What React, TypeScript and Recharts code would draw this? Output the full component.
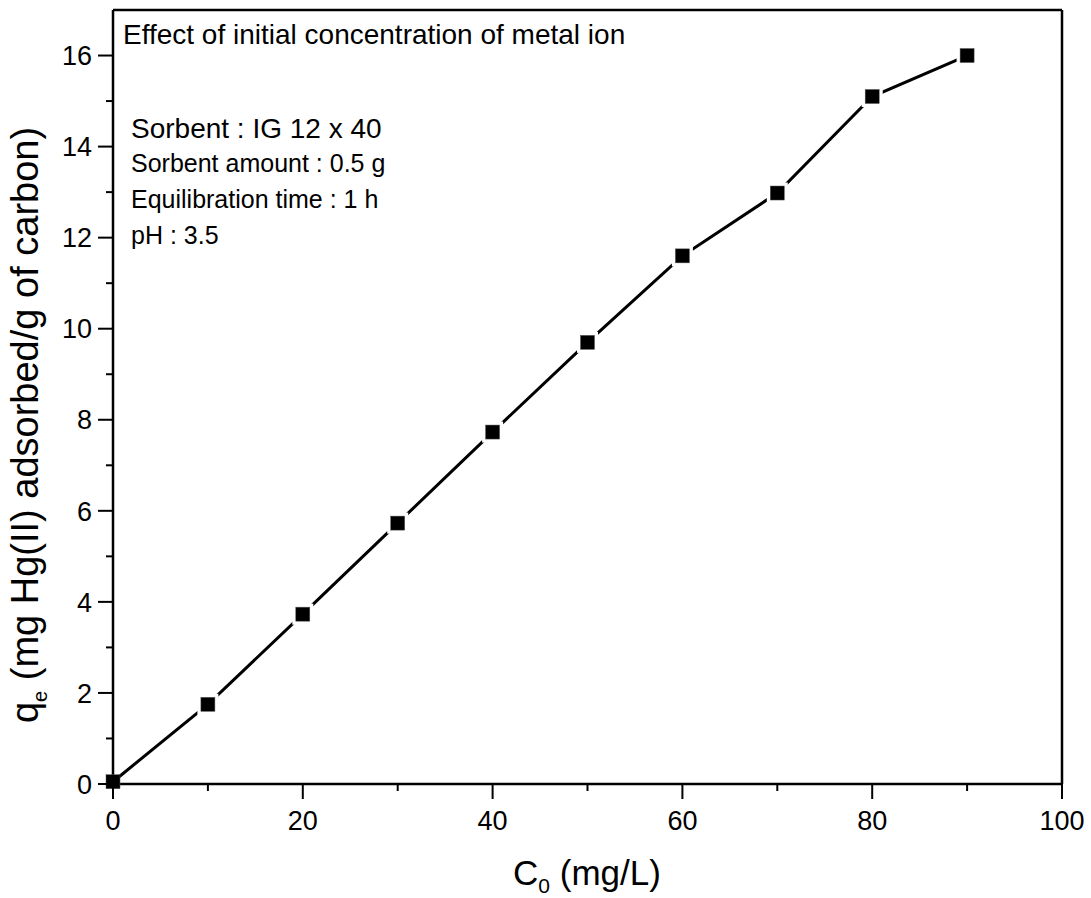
import React from "react";
import { LineChart, Line, XAxis, YAxis, ReferenceLine } from "recharts";

const concentrations = [0, 10, 20, 30, 40, 50, 60, 70, 80, 90];
const uptake = [0.05, 1.75, 3.73, 5.73, 7.73, 9.7, 11.6, 12.98, 15.1, 16.0];
const xTicks = [0, 10, 20, 30, 40, 50, 60, 70, 80, 90, 100];
const yTicks = [0, 1, 2, 3, 4, 5, 6, 7, 8, 9, 10, 11, 12, 13, 14, 15, 16];
const notes = [
  "Sorbent : IG 12 x 40",
  "Sorbent amount : 0.5 g",
  "Equilibration time : 1 h",
  "pH : 3.5",
];
const title = "Effect of initial concentration of metal ion";

const data = concentrations.map((c, i) => ({ c, q: uptake[i] }));

const FONT = "'Liberation Sans', Arial, Helvetica, sans-serif";

const XTick = (props: any) => {
  const { x, y, payload } = props;
  const major = payload.value % 20 === 0;
  return (
    <g>
      <line x1={x} x2={x} y1={y} y2={y + (major ? 15 : 7)} stroke="#000" strokeWidth={2} />
      {major && (
        <text x={x} y={y + 46} textAnchor="middle" fontSize={27} fontFamily={FONT} fill="#000">
          {payload.value}
        </text>
      )}
    </g>
  );
};

const YTick = (props: any) => {
  const { x, y, payload } = props;
  const major = payload.value % 2 === 0;
  return (
    <g>
      <line x1={x - (major ? 15 : 7)} x2={x} y1={y} y2={y} stroke="#000" strokeWidth={2} />
      {major && (
        <text x={x - 21} y={y} dy="0.36em" textAnchor="end" fontSize={27} fontFamily={FONT} fill="#000">
          {payload.value}
        </text>
      )}
    </g>
  );
};

const SquareDot = (props: any) => {
  const { cx, cy, index } = props;
  if (cx == null || cy == null) return <g key={`d${index}`} />;
  return (
    <g key={`d${index}`}>
      {index > 0 && <rect x={cx - 10.5} y={cy - 10.5} width={21} height={21} fill="#fff" />}
      <rect x={cx - 7} y={cy - 7} width={14} height={14} fill="#000" stroke="#555" strokeWidth={0.5} />
    </g>
  );
};

export default function App() {
  return (
    <div style={{ position: "absolute", left: 0, top: 0, width: 1091, height: 898, background: "#fff" }}>
      <LineChart
        width={1091}
        height={898}
        data={data}
        margin={{ top: 10, right: 29, left: 0, bottom: 0 }}
      >
        <XAxis
          dataKey="c"
          type="number"
          domain={[0, 100]}
          ticks={xTicks}
          interval={0}
          tickSize={0}
          tickMargin={0}
          tickLine={false}
          tick={<XTick />}
          height={114}
          axisLine={{ stroke: "#000", strokeWidth: 2.5 }}
        />
        <YAxis
          type="number"
          domain={[0, 17]}
          ticks={yTicks}
          interval={0}
          tickSize={0}
          tickMargin={0}
          tickLine={false}
          tick={<YTick />}
          width={113}
          axisLine={{ stroke: "#000", strokeWidth: 2.5 }}
        />
        <ReferenceLine y={17} stroke="#000" strokeWidth={2.5} />
        <ReferenceLine x={100} stroke="#000" strokeWidth={2.5} />
        <Line
          dataKey="q"
          stroke="#000"
          strokeWidth={3}
          dot={<SquareDot />}
          activeDot={false}
          isAnimationActive={false}
        />
      </LineChart>
      <svg
        width={1091}
        height={898}
        style={{ position: "absolute", left: 0, top: 0, pointerEvents: "none" }}
        fontFamily={FONT}
      >
        <text x={123} y={44} fontSize={28} fill="#000">{title}</text>
        <text x={131} y={138} fontSize={28} fill="#000">{notes[0]}</text>
        <text x={131} y={172} fontSize={25} fill="#000">{notes[1]}</text>
        <text x={131} y={208} fontSize={25} fill="#000">{notes[2]}</text>
        <text x={131} y={244} fontSize={25} fill="#000">{notes[3]}</text>
        <text x={587} y={885} textAnchor="middle" fontSize={35} fill="#000">
          C<tspan fontSize={21} dy={8}>0</tspan>
          <tspan dy={-8}> (mg/L)</tspan>
        </text>
        <text transform="translate(38,425) rotate(-90)" textAnchor="middle" fontSize={38} fill="#000">
          q<tspan fontSize={20} dy={9}>e</tspan>
          <tspan dy={-9}> (mg Hg(II) adsorbed/g of carbon)</tspan>
        </text>
      </svg>
    </div>
  );
}
